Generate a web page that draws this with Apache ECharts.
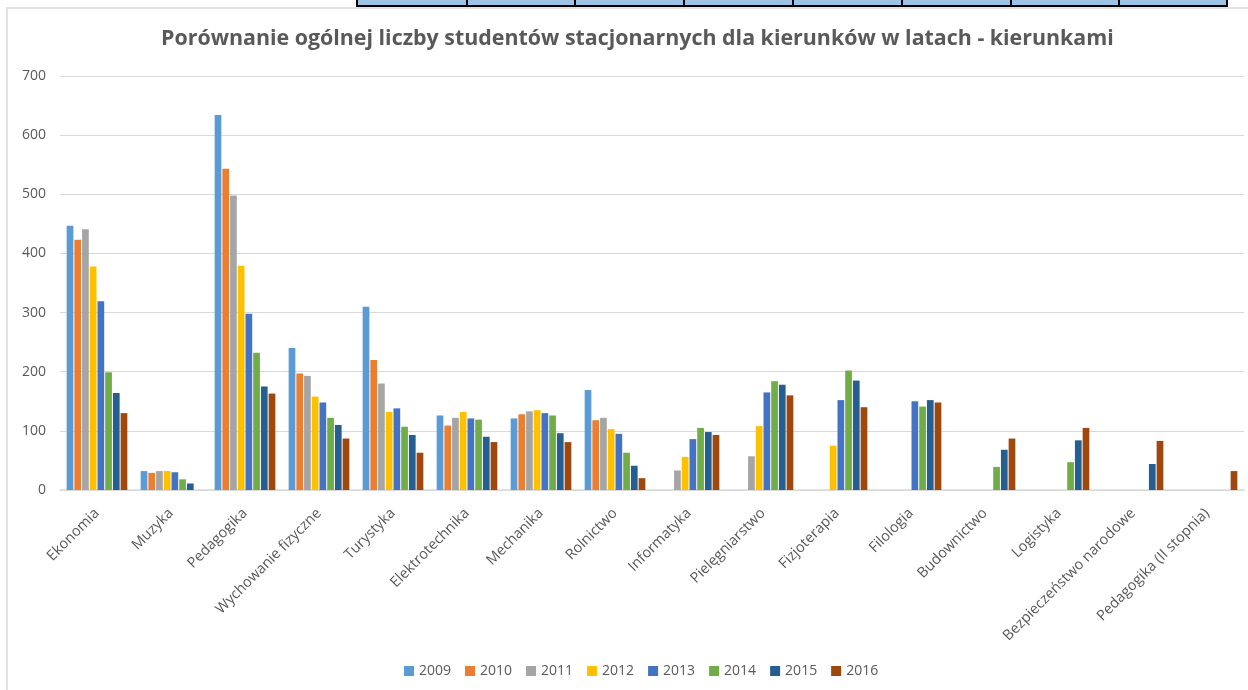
<!DOCTYPE html>
<html>
<head>
    <meta charset="UTF-8">
    <title>Porównanie ogólnej liczby studentów</title>
    <script src="https://cdn.jsdelivr.net/npm/echarts@6/dist/echarts.min.js"></script>
    <style>
        html, body { margin: 0; padding: 0; background: #fff; }
        #chart { width: 1248px; height: 690px; }
    </style>
</head>
<body>
<div id="chart"></div>
<script type="text/javascript">
    var categories = ['Ekonomia', 'Muzyka', 'Pedagogika', 'Wychowanie fizyczne', 'Turystyka', 'Elektrotechnika',
        'Mechanika', 'Rolnictwo', 'Informatyka', 'Pielęgniarstwo', 'Fizjoterapia', 'Filologia', 'Budownictwo',
        'Logistyka', 'Bezpieczeństwo narodowe', 'Pedagogika (II stopnia)'];
    var years = ['2009', '2010', '2011', '2012', '2013', '2014', '2015', '2016'];
    var colors = ['#5B9BD5', '#ED7D31', '#A5A5A5', '#FFC000', '#4472C4', '#70AD47', '#255E91', '#9E480E'];

    var y2009 = [447, 32, 634, 240, 310, 126, 121, 169, null, null, null, null, null, null, null, null];
    var y2010 = [423, 29, 543, 197, 220, 109, 128, 118, null, null, null, null, null, null, null, null];
    var y2011 = [441, 32, 498, 193, 180, 122, 133, 122, 33, 57, null, null, null, null, null, null];
    var y2012 = [378, 32, 379, 158, 132, 132, 135, 103, 56, 108, 75, null, null, null, null, null];
    var y2013 = [319, 30, 298, 148, 138, 121, 130, 95, 86, 165, 152, 150, null, null, null, null];
    var y2014 = [199, 18, 232, 122, 107, 119, 126, 63, 105, 184, 202, 141, 39, 47, null, null];
    var y2015 = [164, 11, 175, 110, 93, 90, 96, 41, 98, 178, 185, 152, 68, 84, 44, null];
    var y2016 = [130, null, 163, 87, 63, 81, 81, 20, 93, 160, 140, 148, 87, 105, 83, 32];
    var yearData = [y2009, y2010, y2011, y2012, y2013, y2014, y2015, y2016];

    var yMin = 0, yMax = 700, yStep = 100;

    var series = [];
    for (let i = 0; i < years.length; i++) {
        series.push({
            name: years[i],
            type: 'bar',
            barGap: '15%',
            barCategoryGap: '18%',
            itemStyle: {color: colors[i]},
            data: yearData[i]
        });
    }

    // obramowanie wykresu i fragment komorek arkusza nad nim
    var graphics = [
        {type: 'rect', shape: {x: 7, y: 8, width: 1250, height: 690}, style: {fill: null, stroke: '#d9d9d9', lineWidth: 1.5}, silent: true}
    ];
    var cellEdges = [357, 467, 575, 684, 793, 902, 1011, 1119, 1227];
    for (let i = 0; i < cellEdges.length - 1; i++) {
        graphics.push({type: 'rect', shape: {x: cellEdges[i], y: -2, width: cellEdges[i + 1] - cellEdges[i], height: 8},
            style: {fill: '#9DC3E6', stroke: '#000', lineWidth: 2}, silent: true});
    }

    var option = {
        animation: false,
        color: colors,
        title: {
            text: 'Porównanie ogólnej liczby studentów stacjonarnych dla kierunków w latach - kierunkami',
            left: 156,
            top: 23,
            textStyle: {fontFamily: 'Open Sans', fontSize: 21.4, fontWeight: 'bold', color: '#595959'}
        },
        legend: {
            data: years,
            bottom: 7,
            left: 399,
            itemWidth: 10,
            itemHeight: 10,
            itemGap: 14,
            icon: 'rect',
            textStyle: {fontFamily: 'Open Sans', fontSize: 14, color: '#595959'}
        },
        grid: {left: 60, right: 4, top: 76, bottom: 200},
        xAxis: {
            type: 'category',
            data: categories,
            axisLine: {lineStyle: {color: '#d9d9d9', width: 1.5}},
            axisTick: {show: false},
            axisLabel: {rotate: 45, interval: 0, margin: 21, fontFamily: 'Open Sans', fontSize: 14.5, color: '#595959'}
        },
        yAxis: {
            type: 'value',
            min: yMin,
            max: yMax,
            interval: yStep,
            axisLine: {show: false},
            axisTick: {show: false},
            axisLabel: {margin: 14, fontFamily: 'Open Sans', fontSize: 14, color: '#595959'},
            splitLine: {lineStyle: {color: '#d9d9d9', width: 1}}
        },
        graphic: graphics,
        series: series
    };

    var myChart = echarts.init(document.getElementById('chart'));
    myChart.setOption(option);
</script>
</body>
</html>
